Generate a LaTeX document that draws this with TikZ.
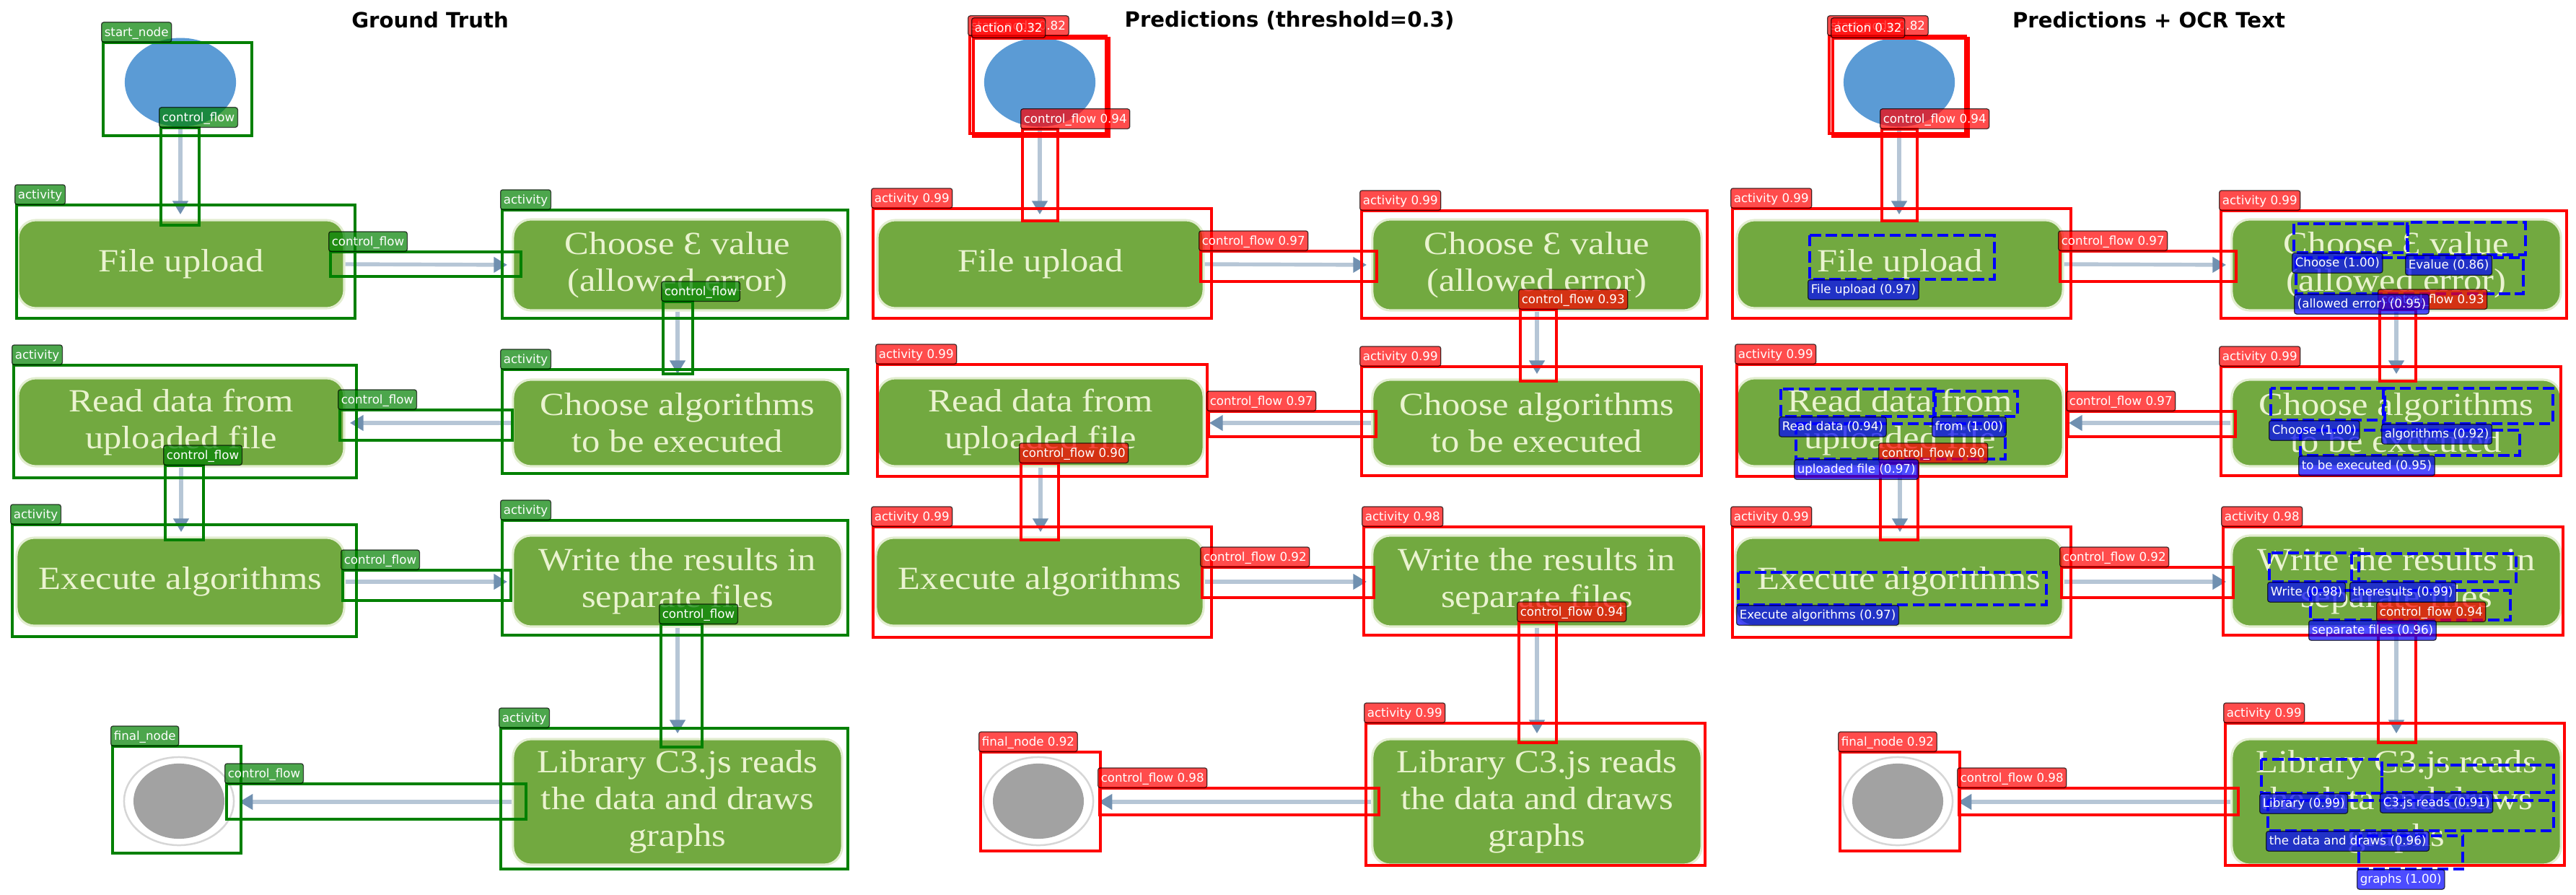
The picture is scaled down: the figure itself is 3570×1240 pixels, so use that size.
\documentclass[tikz,border=0pt]{standalone}
\usepackage{fontspec}
\setmainfont{DejaVu Sans}
\newfontfamily\imgfont[FakeStretch=1.13]{Liberation Serif}
\usetikzlibrary{shapes.geometric, arrows.meta, positioning}
\definecolor{gtgreen}{RGB}{0, 128, 0}
\definecolor{predred}{RGB}{255, 0, 0}
\definecolor{ocrblue}{RGB}{0, 0, 255}
\definecolor{imggreen}{RGB}{114, 169, 64}
\definecolor{imgtext}{RGB}{234, 243, 208}
\definecolor{imgedge}{RGB}{226, 237, 208}
\definecolor{startblue}{RGB}{91, 155, 213}
\definecolor{flowline}{RGB}{182, 198, 214}
\definecolor{flowtip}{RGB}{112, 144, 176}
\definecolor{endgray}{RGB}{162, 162, 162}
\definecolor{ringgray}{RGB}{214, 214, 214}

\tikzset{
  actbox/.style={draw=imgedge, line width=1.5pt, fill=imggreen, rounded corners=12pt, inner sep=0pt,
    font=\imgfont\fontsize{21.5}{24.5}\selectfont, text=imgtext, align=center},
  flow/.style={draw=flowline, line width=2.6pt, shorten >=3pt,
    -{Triangle[length=9pt, width=10pt, color=flowtip]}},
  tag/.style={anchor=south west, font=\fontsize{8}{9.6}\selectfont, text=white, inner xsep=2pt, inner ysep=2pt,
    text height=7.2pt, text depth=2pt, rounded corners=1.5pt, draw=black, line width=0.6pt,
    draw opacity=0.7, fill opacity=0.7, text opacity=1},
  ocrtag/.style={tag, anchor=north west, fill=ocrblue},
  gtbox/.style={draw=gtgreen, line width=1.6pt},
  predbox/.style={draw=predred, line width=2pt},
  ocrbox/.style={draw=ocrblue, line width=2pt, dash pattern=on 7.4pt off 3.2pt},
  paneltitle/.style={font=\fontsize{14}{16.8}\selectfont\bfseries}
}

\begin{document}
\begin{tikzpicture}[x=0.48pt, y=-0.48pt]
  \useasboundingbox (0,0) rectangle (3570,1240);

  % Panel titles
  \foreach \dx/\ttl [count=\i] in {0/Ground Truth, 1191/{Predictions (threshold=0.3)}, 2382/{Predictions + OCR Text}}
    \node[paneltitle] (title\i) at (\dx+596,28) {\ttl};

  % Activity diagram, once per panel
  \foreach \p/\dx in {1/0, 2/1191, 3/2382} {
    \begin{scope}[shift={(\dx,0)}, name prefix=p\p-]
      \node[ellipse, fill=startblue, minimum width=74pt, minimum height=59pt, inner sep=0pt] (start) at (250,114) {};
      \node[ellipse, draw=ringgray, line width=1.2pt, fill=white, minimum width=73pt, minimum height=58.6pt, inner sep=0pt] (final) at (248,1110) {};
      \node[ellipse, fill=endgray, minimum width=60.5pt, minimum height=50pt, inner sep=0pt] (finaldot) at (final.center) {};

      \node[actbox, minimum width=217pt, minimum height=58.6pt] (file) at (251,366) {File upload};
      \node[actbox, minimum width=219pt, minimum height=60.5pt] (eps) at (939,367) {Choose Ɛ value\\(allowed error)};
      \node[actbox, minimum width=217pt, minimum height=58.6pt] (read) at (251,585) {Read data from\\uploaded file};
      \node[actbox, minimum width=219pt, minimum height=57.6pt] (algos) at (939,586) {Choose algorithms\\to be executed};
      \node[actbox, minimum width=218pt, minimum height=58.6pt] (exec) at (250,806) {Execute algorithms};
      \node[actbox, minimum width=219pt, minimum height=60.5pt] (write) at (939,805) {Write the results in\\separate files};
      \node[actbox, minimum width=219pt, minimum height=83.5pt] (lib) at (939,1111) {Library C3.js reads\\the data and draws\\graphs};

      \draw[flow] (start.south) -- (start.south |- file.north);
      \draw[flow] (file.east) -- (eps.west);
      \draw[flow] (eps.south) -- (algos.north);
      \draw[flow] (algos.west) -- (algos.west -| read.east);
      \draw[flow] (read.south) -- (read.south |- exec.north);
      \draw[flow] (exec.east) -- (exec.east -| write.west);
      \draw[flow] (write.south) -- (lib.north);
      \draw[flow] (lib.west) -- (lib.west -| final.east);
    \end{scope}
  }

  % Ground truth boxes
  \def\gtlist{143/59/349/188/start\_node, 223/177/276/312/control\_flow, 23/284/492/441/activity,
    458/349/722/383/control\_flow, 696/291/1175/441/activity, 919/418/960/518/control\_flow,
    19/506/494/662/activity, 471/568/710/610/control\_flow, 696/512/1175/656/activity,
    229/645/282/748/control\_flow, 17/727/494/882/activity, 475/790/708/832/control\_flow,
    696/721/1175/880/activity, 916/865/973/1035/control\_flow, 694/1009/1175/1204/activity,
    156/1034/334/1182/final\_node, 314/1086/729/1135/control\_flow}
  \foreach \xa/\ya/\xb/\yb/\txt in \gtlist
    \draw[gtbox] (\xa,\ya) rectangle (\xb,\yb);
  \foreach \xa/\ya/\xb/\yb/\txt [count=\i] in \gtlist
    \node[tag, fill=gtgreen] (gt\i) at (\xa-3,\ya) {\txt};

  % Predicted boxes (panels 2 and 3)
  \def\predlist{153/50/342/185/start\_node 0.82, 158/53/346/189/action 0.32, 226/179/275/306/control\_flow 0.94,
    19/289/488/441/activity 0.99, 473/348/717/390/control\_flow 0.97, 696/292/1175/441/activity 0.99,
    916/429/966/528/control\_flow 0.93, 25/505/482/660/activity 0.99, 696/508/1167/659/activity 0.99,
    484/570/716/605/control\_flow 0.97, 224/642/276/748/control\_flow 0.90, 19/730/488/883/activity 0.99,
    475/786/713/828/control\_flow 0.92, 699/730/1170/880/activity 0.98, 914/862/966/1029/control\_flow 0.94,
    702/1002/1172/1199/activity 0.99, 168/1042/334/1179/final\_node 0.92, 333/1092/720/1129/control\_flow 0.98}
  % OCR words (panel 3)
  \def\ocrlist{126/326/382/387/{File upload (0.97)}, 797/310/955/350/{Choose (1.00)}, 954/308/1118/353/{Evalue (0.86)},
    800/357/1115/407/{(allowed error) (0.95)}, 86/539/300/577/{Read data (0.94)}, 298/542/414/577/{from (1.00)},
    107/587/397/636/{uploaded file (0.97)}, 765/538/923/582/{Choose (1.00)}, 921/538/1156/587/{algorithms (0.92)},
    806/596/1110/631/{to be executed (0.95)}, 27/793/454/838/{Execute algorithms (0.97)}, 763/766/887/806/{Write (0.98)},
    877/767/1105/806/{theresults (0.99)}, 820/818/1097/859/{separate files (0.96)}, 752/1052/919/1099/{Library (0.99)},
    919/1060/1157/1098/{C3.js reads (0.91)}, 761/1109/1157/1151/{the data and draws (0.96)}, 887/1158/1031/1204/{graphs (1.00)}}

  \foreach \p/\dx in {2/1191, 3/2382} {
    \begin{scope}[shift={(\dx,0)}]
      \foreach \xa/\ya/\xb/\yb/\txt in \predlist
        \draw[predbox] (\xa,\ya) rectangle (\xb,\yb);
      \ifnum\p=3
        \foreach \xa/\ya/\xb/\yb/\txt in \ocrlist
          \draw[ocrbox] (\xa,\ya) rectangle (\xb,\yb);
      \fi
      \foreach \xa/\ya/\xb/\yb/\txt [count=\i] in \predlist
        \node[tag, fill=predred] (pred\p-\i) at (\xa-3,\ya) {\txt};
      \ifnum\p=3
        \foreach \xa/\ya/\xb/\yb/\txt [count=\i] in \ocrlist
          \node[ocrtag] (ocr\i) at (\xa-3,\yb) {\txt};
      \fi
    \end{scope}
  }
\end{tikzpicture}
\end{document}
